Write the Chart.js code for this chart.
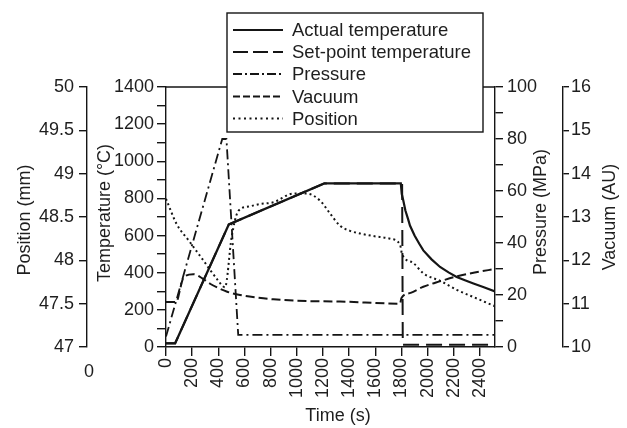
<!DOCTYPE html>
<html><head><meta charset="utf-8">
<script src="https://cdn.jsdelivr.net/npm/chart.js@4.4.1/dist/chart.umd.min.js"></script>
<style>html,body{margin:0;padding:0;background:#fff}#wrap{width:627px;height:428px}</style>
</head><body><div id="wrap"><canvas id="c" width="627" height="428"></canvas></div>
<script>
// ---- data ----
const seriesLabels = ['Actual temperature','Set-point temperature','Pressure','Vacuum','Position'];

const actualTime = [0,70,480,1210,1795,1802,1814,1830,1850,1865,1900,1935,1967,2030,2095,2160,2222,2290,2350,2430,2515];
const actualTemp = [20,20,660,881,881,825,789,735,690,654,600,557,520,472,431,402,377,358,342,322,299];

const setTime = [0,70,480,1210,1805,1810,2515];
const setTemp = [20,20,660,881,881,12,12];

const pressTime = [0,430,462,552,2515];
const pressVal  = [4,80,80,4.7,4.7];

const vacTime = [0,80,105,133,209,280,337,400,463,566,700,821,1075,1330,1789,1800,1870,1967,2100,2222,2360,2515];
const vacVal  = [11.04,11.04,11.3,11.6,11.68,11.58,11.46,11.36,11.28,11.2,11.14,11.1,11.06,11.05,11.0,11.13,11.25,11.39,11.52,11.63,11.72,11.8];

const posTime = [0,81,183,285,387,451,502,553,630,719,821,973,1075,1177,1254,1330,1407,1483,1585,1713,1789,1805,1890,1967,2100,2222,2360,2515];
const posVal  = [48.71,48.42,48.21,48.0,47.79,47.69,48.27,48.57,48.62,48.65,48.67,48.77,48.77,48.69,48.54,48.40,48.34,48.31,48.28,48.25,48.18,48.07,47.97,47.85,47.76,47.66,47.57,47.47];

const xTicks    = [0,200,400,600,800,1000,1200,1400,1600,1800,2000,2200,2400];
const tempTicks = [0,100,200,300,400,500,600,700,800,900,1000,1100,1200,1300,1400];
const posTicks  = [47,47.5,48,48.5,49,49.5,50];
const pressTicks= [0,10,20,30,40,50,60,70,80,90,100];
const vacTicks  = [10,11,12,13,14,15,16];

// ---- styles ----
const INK = '#151515';
const TXT = '#1e1e1e';
const FONT = 'Liberation Sans, Arial, sans-serif';
const FS = 18;

const pts = (xs, ys) => xs.map((x, i) => ({x, y: ys[i]}));
const setTicks = arr => s => { s.ticks = arr.map(v => ({value: v})); };

function vAxis(pos, weight, min, max, ticks, width, labelFn, tickLen, pad) {
  return {
    type: 'linear', position: pos, weight, min, max,
    afterBuildTicks: setTicks(ticks),
    afterFit: s => { s.width = width; },
    ticks: { color: TXT, font: {family: FONT, size: FS}, padding: pad, callback: labelFn, autoSkip: false },
    grid: { drawOnChartArea: false, drawTicks: true, tickLength: tickLen, color: INK, lineWidth: 1.4 },
    border: { display: true, color: INK, width: 1.4 },
    title: { display: false }
  };
}

const legendStyles = [
  {dash: [], w: 2.2},
  {dash: [15,5], w: 2},
  {dash: [9,3,2,3], w: 1.8},
  {dash: [7,3], w: 2},
  {dash: [2,3.5], w: 2}
];

const decor = {
  id: 'decor',
  afterDraw(chart) {
    const ctx = chart.ctx, a = chart.chartArea;
    ctx.save();
    // frame top line
    ctx.strokeStyle = INK; ctx.lineWidth = 1.4; ctx.setLineDash([]);
    ctx.beginPath(); ctx.moveTo(a.left, a.top); ctx.lineTo(a.right, a.top); ctx.stroke();
    // axis titles
    ctx.fillStyle = TXT; ctx.font = FS + 'px ' + FONT;
    ctx.textAlign = 'center'; ctx.textBaseline = 'middle';
    const vt = (t, x, y) => { ctx.save(); ctx.translate(x, y); ctx.rotate(-Math.PI/2); ctx.fillText(t, 0, 0); ctx.restore(); };
    vt('Position (mm)', 25, 220);
    vt('Temperature (°C)', 105, 213);
    vt('Pressure (MPa)', 541, 212);
    vt('Vacuum (AU)', 610, 217);
    ctx.fillText('Time (s)', 338, 416);
    ctx.fillText('0', 89, 372);
    // legend
    const L = 227, T = 13, R = 483, B = 132;
    ctx.fillStyle = '#fff'; ctx.fillRect(L, T, R - L, B - T);
    ctx.strokeStyle = INK; ctx.lineWidth = 1.4; ctx.strokeRect(L, T, R - L, B - T);
    const rows = [30, 52, 74, 96.5, 118.5];
    seriesLabels.forEach((lab, i) => {
      const st = legendStyles[i];
      ctx.strokeStyle = INK; ctx.lineWidth = st.w; ctx.setLineDash(st.dash);
      ctx.beginPath(); ctx.moveTo(233, rows[i]); ctx.lineTo(283, rows[i]); ctx.stroke();
      ctx.setLineDash([]);
      ctx.fillStyle = TXT; ctx.textAlign = 'left'; ctx.textBaseline = 'middle';
      ctx.font = '18.5px ' + FONT;
      ctx.fillText(lab, 292, rows[i] + 1);
    });
    ctx.restore();
  }
};

const common = { fill: false, pointRadius: 0, borderColor: INK, backgroundColor: INK };

new Chart(document.getElementById('c'), {
  type: 'line',
  data: {
    datasets: [
      {...common, label: seriesLabels[4], data: pts(posTime, posVal), yAxisID: 'yPos', borderWidth: 2, borderDash: [2,3], cubicInterpolationMode: 'monotone'},
      {...common, label: seriesLabels[3], data: pts(vacTime, vacVal), yAxisID: 'yVac', borderWidth: 2, borderDash: [9,4], cubicInterpolationMode: 'monotone'},
      {...common, label: seriesLabels[2], data: pts(pressTime, pressVal), yAxisID: 'yPres', borderWidth: 1.8, borderDash: [10,4,2,4], tension: 0},
      {...common, label: seriesLabels[1], data: pts(setTime, setTemp), yAxisID: 'yTemp', borderWidth: 2, borderDash: [16,7], tension: 0},
      {...common, label: seriesLabels[0], data: pts(actualTime, actualTemp), yAxisID: 'yTemp', borderWidth: 2.2, tension: 0}
    ]
  },
  options: {
    responsive: false, animation: false, devicePixelRatio: 1,
    layout: { padding: { top: 87, left: 0, right: 0, bottom: 0 } },
    plugins: { legend: { display: false }, tooltip: { enabled: false } },
    scales: {
      x: {
        type: 'linear', position: 'bottom', min: 0, max: 2515,
        afterBuildTicks: setTicks(xTicks),
        afterFit: s => { s.height = 81; },
        ticks: { color: TXT, font: {family: FONT, size: FS}, padding: 2, minRotation: 90, maxRotation: 90, autoSkip: false, callback: v => String(v) },
        grid: { drawOnChartArea: false, drawTicks: true, tickLength: 9, color: INK, lineWidth: 1.4 },
        border: { display: true, color: INK, width: 1.4 }
      },
      yTemp: vAxis('left', 0, 0, 1400, tempTicks, 79, v => (v % 200 === 0 ? String(v) : ''), 9, 3),
      yPos: vAxis('left', 1, 47, 50, posTicks, 87, v => String(v), 8, 5),
      yPres: vAxis('right', 0, 0, 100, pressTicks, 68, v => (v % 20 === 0 ? String(v) : ''), 8, 4),
      yVac: vAxis('right', 1, 10, 16, vacTicks, 64, v => String(v), 6, 2)
    }
  },
  plugins: [decor]
});
</script></body></html>
